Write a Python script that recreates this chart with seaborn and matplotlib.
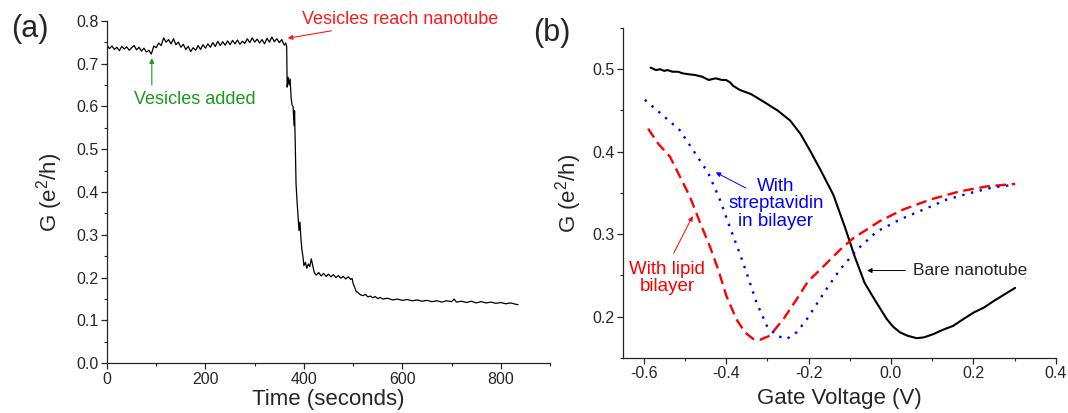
import matplotlib
matplotlib.use('Agg')
import matplotlib.pyplot as plt
from matplotlib.ticker import MultipleLocator
import seaborn as sns

# (a) conductance vs time
time_a = [0, 5, 10, 15, 20, 25, 30, 35, 40, 45, 50, 55, 60, 65, 70, 75, 80, 85, 90, 95,
          100, 105, 110, 115, 120, 125, 130, 135, 140, 145, 150, 155, 160, 165, 170, 175,
          180, 185, 190, 195, 200, 205, 210, 215, 220, 225, 230, 235, 240, 245, 250, 255,
          260, 265, 270, 275, 280, 285, 290, 295, 300, 305, 310, 315, 320, 325, 330, 335,
          340, 345, 350, 355, 360, 363, 365,
          366, 368, 370, 372, 374, 376, 378, 380, 381, 382, 383, 384, 386, 388, 390, 392,
          394, 396, 398, 400, 403, 406, 409, 412, 415, 418, 421, 425,
          430, 435, 440, 445, 450, 455, 460, 465, 470, 475, 480, 485, 490, 495, 498,
          500, 503, 506, 510, 515, 520, 525, 530, 535, 540, 545, 550, 555, 560,
          570, 580, 590, 600, 610, 620, 630, 640, 650, 660, 670, 680, 690, 700, 705,
          710, 720, 730, 740, 750, 760, 770, 780, 790, 800, 810, 820, 830, 835]
g_a = [0.742, 0.735, 0.741, 0.733, 0.738, 0.730, 0.740, 0.734, 0.739, 0.731, 0.737, 0.742,
       0.732, 0.738, 0.729, 0.736, 0.727, 0.731, 0.722, 0.741,
       0.737, 0.748, 0.742, 0.760, 0.750, 0.756, 0.746, 0.758, 0.744, 0.750, 0.738, 0.745,
       0.733, 0.740, 0.728, 0.737, 0.731, 0.742, 0.733, 0.744, 0.736, 0.746, 0.738, 0.749,
       0.740, 0.752, 0.742, 0.751, 0.743, 0.753, 0.744, 0.754, 0.746, 0.755, 0.745, 0.752,
       0.747, 0.758, 0.749, 0.760, 0.750, 0.757, 0.748, 0.756, 0.746, 0.759, 0.750, 0.762,
       0.751, 0.758, 0.749, 0.756, 0.743, 0.748, 0.740,
       0.645, 0.668, 0.650, 0.664, 0.620, 0.603, 0.600, 0.555, 0.590, 0.540, 0.480, 0.420,
       0.380, 0.345, 0.310, 0.330, 0.290, 0.265, 0.250, 0.228, 0.236, 0.222, 0.232, 0.226,
       0.244, 0.228, 0.212, 0.206,
       0.212, 0.204, 0.210, 0.203, 0.208, 0.202, 0.207, 0.200, 0.205, 0.199, 0.203, 0.197,
       0.202, 0.196, 0.198,
       0.186, 0.178, 0.168, 0.165, 0.160, 0.158, 0.161, 0.155, 0.157, 0.153, 0.156, 0.151,
       0.154, 0.150,
       0.152, 0.148, 0.150, 0.147, 0.149, 0.146, 0.148, 0.145, 0.147, 0.144, 0.146, 0.143,
       0.146, 0.144, 0.150,
       0.143, 0.145, 0.142, 0.145, 0.141, 0.144, 0.141, 0.143, 0.140, 0.142, 0.139, 0.141,
       0.138, 0.137]

# (b) conductance vs gate voltage
vg_bare = [-0.583, -0.57, -0.56, -0.55, -0.542, -0.53, -0.517, -0.505, -0.492, -0.475,
           -0.458, -0.442, -0.425, -0.41, -0.4, -0.39, -0.383, -0.367, -0.34, -0.31,
           -0.275, -0.245, -0.22, -0.197, -0.172, -0.14, -0.112, -0.088, -0.064, -0.035,
           -0.01, 0.005, 0.022, 0.04, 0.062, 0.08, 0.103, 0.125, 0.151, 0.175, 0.2,
           0.225, 0.249, 0.275, 0.301]
g_bare = [0.502, 0.499, 0.500, 0.498, 0.499, 0.497, 0.497, 0.495, 0.494, 0.493,
          0.491, 0.487, 0.489, 0.487, 0.487, 0.484, 0.480, 0.475, 0.470, 0.461,
          0.450, 0.438, 0.422, 0.402, 0.379, 0.348, 0.309, 0.273, 0.241, 0.217,
          0.197, 0.188, 0.181, 0.177, 0.174, 0.175, 0.179, 0.184, 0.189, 0.197, 0.205,
          0.211, 0.219, 0.227, 0.235]

vg_lipid = [-0.589, -0.565, -0.536, -0.512, -0.488, -0.463, -0.439, -0.419, -0.399, -0.375,
            -0.354, -0.334, -0.318, -0.294, -0.261, -0.229, -0.201, -0.172, -0.124, -0.092,
            -0.027, 0.03, 0.095, 0.167, 0.232, 0.301]
g_lipid = [0.428, 0.410, 0.394, 0.370, 0.346, 0.314, 0.285, 0.257, 0.225, 0.197,
           0.181, 0.173, 0.172, 0.177, 0.197, 0.221, 0.243, 0.257, 0.281, 0.295,
           0.316, 0.330, 0.342, 0.352, 0.358, 0.361]

vg_strep = [-0.597, -0.553, -0.512, -0.48, -0.443, -0.415, -0.391, -0.367, -0.35, -0.326,
            -0.301, -0.277, -0.253, -0.229, -0.204, -0.16, -0.124, -0.083, -0.035, 0.022,
            0.07, 0.135, 0.192, 0.249, 0.301]
g_strep = [0.463, 0.444, 0.426, 0.402, 0.374, 0.342, 0.309, 0.277, 0.253, 0.217,
           0.189, 0.177, 0.173, 0.181, 0.197, 0.231, 0.257, 0.281, 0.303, 0.318,
           0.328, 0.342, 0.350, 0.357, 0.360]

sns.set_style('ticks')
plt.rcParams['font.family'] = ['Liberation Sans', 'DejaVu Sans']
plt.rcParams['mathtext.default'] = 'regular'
plt.rcParams['axes.unicode_minus'] = False
plt.rcParams['axes.linewidth'] = 0.9

fig = plt.figure(figsize=(10.68, 4.13), dpi=100)
ax1 = fig.add_axes([0.1002, 0.1203, 0.4148, 0.8295])
ax2 = fig.add_axes([0.5833, 0.1332, 0.4054, 0.799])

# 面板 (a)
sns.lineplot(x=time_a, y=g_a, ax=ax1, color='black', lw=0.9, errorbar=None)
ax1.set_xlim(0, 900)
ax1.set_ylim(0, 0.8)
ax1.xaxis.set_major_locator(MultipleLocator(200))
ax1.xaxis.set_minor_locator(MultipleLocator(100))
ax1.yaxis.set_major_locator(MultipleLocator(0.1))
ax1.yaxis.set_minor_locator(MultipleLocator(0.05))
ax1.set_xlabel('Time (seconds)', fontsize=16, labelpad=2)
ax1.set_ylabel('G (e$^2$/h)', fontsize=16, labelpad=8)
ax1.annotate('Vesicles reach nanotube', xy=(367, 0.759), xytext=(396, 0.804),
             color='#ff1a1a', fontsize=13, va='center', ha='left',
             arrowprops=dict(arrowstyle='-|>', color='#ff1a1a', lw=0.8,
                             mutation_scale=7, shrinkA=0, shrinkB=0))
ax1.annotate('', xy=(91, 0.7125), xytext=(91, 0.650),
             arrowprops=dict(arrowstyle='-|>', color='#1a9a1a', lw=0.8,
                             mutation_scale=7, shrinkA=0, shrinkB=0))
ax1.text(179, 0.617, 'Vesicles added', color='#1a9a1a', fontsize=13,
         ha='center', va='center')
fig.text(0.010, 0.93, '(a)', fontsize=22, va='center', ha='left')

# 面板 (b)
sns.lineplot(x=vg_bare, y=g_bare, ax=ax2, color='black', lw=1.5, errorbar=None)
sns.lineplot(x=vg_lipid, y=g_lipid, ax=ax2, color='#ff0000', lw=1.7, errorbar=None,
             linestyle=(0, (4.5, 2.4)))
sns.lineplot(x=vg_strep, y=g_strep, ax=ax2, color='#0000ff', lw=1.7, errorbar=None,
             linestyle=(0, (1, 2.8)))
ax2.set_xlim(-0.65, 0.4)
ax2.set_ylim(0.15, 0.55)
ax2.xaxis.set_major_locator(MultipleLocator(0.2))
ax2.xaxis.set_minor_locator(MultipleLocator(0.1))
ax2.yaxis.set_major_locator(MultipleLocator(0.1))
ax2.yaxis.set_minor_locator(MultipleLocator(0.05))
ax2.set_xlabel('Gate Voltage (V)', fontsize=16, labelpad=5)
ax2.set_ylabel('G (e$^2$/h)', fontsize=16, labelpad=6)
ax2.annotate('', xy=(-0.425, 0.375), xytext=(-0.352, 0.356),
             arrowprops=dict(arrowstyle='-|>', color='#0000ff', lw=0.7,
                             mutation_scale=7, shrinkA=0, shrinkB=0))
ax2.text(-0.279, 0.337, 'With\nstreptavidin\nin bilayer', color='#0000ff',
         fontsize=13.5, ha='center', va='center', linespacing=1.05)
ax2.annotate('', xy=(-0.481, 0.322), xytext=(-0.527, 0.277),
             arrowprops=dict(arrowstyle='-|>', color='#ff0000', lw=0.7,
                             mutation_scale=7, shrinkA=0, shrinkB=0))
ax2.text(-0.543, 0.247, 'With lipid\nbilayer', color='#ff0000',
         fontsize=13.5, ha='center', va='center', linespacing=1.05)
ax2.annotate('Bare nanotube', xy=(-0.058, 0.256), xytext=(0.053, 0.256),
             fontsize=12.5, va='center', ha='left',
             arrowprops=dict(arrowstyle='-|>', color='black', lw=0.7,
                             mutation_scale=7, shrinkA=3, shrinkB=0))
fig.text(0.499, 0.92, '(b)', fontsize=22, va='center', ha='left')

for ax in (ax1, ax2):
    sns.despine(ax=ax)
    ax.tick_params(which='major', direction='out', length=4, width=0.9, labelsize=11.5,
                   pad=2)
    ax.tick_params(which='minor', direction='out', length=2.5, width=0.8)

fig.savefig('out.png', dpi=100)
